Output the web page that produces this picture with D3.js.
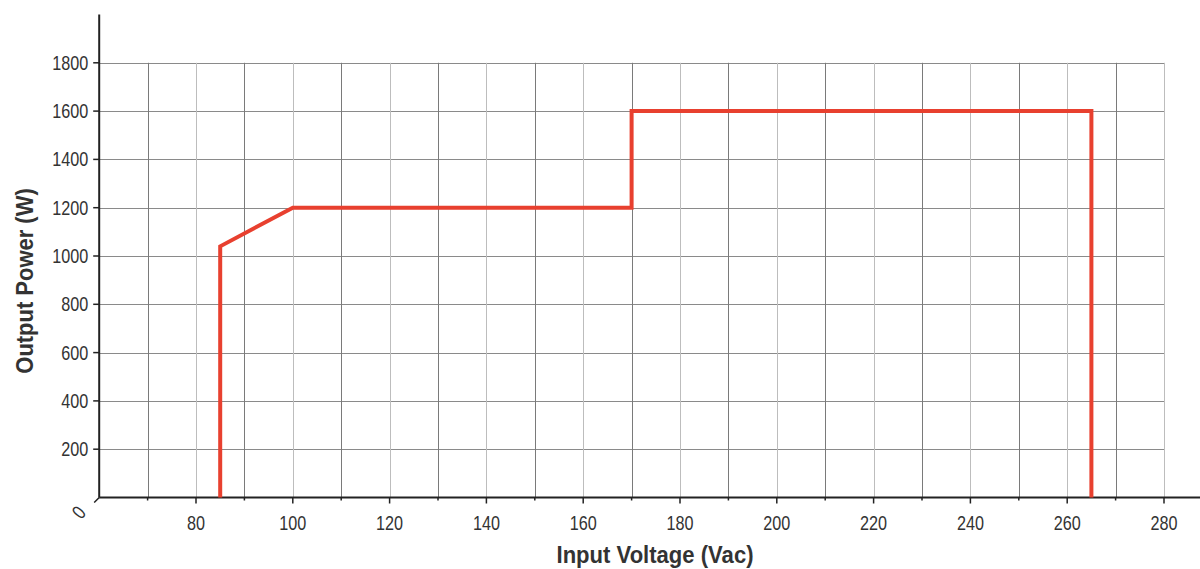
<!DOCTYPE html>
<html><head><meta charset="utf-8">
<script src="https://cdn.jsdelivr.net/npm/d3@7"></script>
<style>body{margin:0;background:#fff;}svg{display:block;font-family:"Liberation Sans",Arial,sans-serif;}</style>
</head><body><svg id="c" width="1200" height="569"></svg>
<script>
const voltage = [85, 85, 100, 170, 170, 265, 265];
const power   = [0, 1040, 1200, 1200, 1600, 1600, 0];
const xTickLabels = [80, 100, 120, 140, 160, 180, 200, 220, 240, 260, 280];
const xGrid = [70, 80, 90, 100, 110, 120, 130, 140, 150, 160, 170, 180, 190, 200, 210, 220, 230, 240, 250, 260, 270, 280];
const yTickLabels = [200, 400, 600, 800, 1000, 1200, 1400, 1600, 1800];

const svg = d3.select("#c");
const x = d3.scaleLinear().domain([60, 290]).range([99.2, 1212.4]);
const y = d3.scaleLinear().domain([0, 2000]).range([497.5, 14.5]);
const SX = 0.81;

const g = svg.append("g");
// horizontal grid
g.selectAll(".hg").data(yTickLabels).join("line")
  .attr("x1", x(60)).attr("x2", x(280))
  .attr("y1", d => Math.round(y(d)) + 0.5).attr("y2", d => Math.round(y(d)) + 0.5)
  .attr("stroke", "#8a8a8a").attr("stroke-width", 1);
// vertical grid
g.selectAll(".vg").data(xGrid).join("line")
  .attr("x1", d => Math.round(x(d)) + 0.5).attr("x2", d => Math.round(x(d)) + 0.5)
  .attr("y1", y(1800)).attr("y2", y(0))
  .attr("stroke", d => d % 20 === 0 ? "#bdbdbd" : "#7a7a7a").attr("stroke-width", 1);

// axes
const ax = svg.append("g").attr("stroke", "#222");
ax.append("line").attr("x1", x(60)).attr("x2", 1200).attr("y1", y(0)).attr("y2", y(0)).attr("stroke-width", 2);
ax.append("line").attr("x1", x(60)).attr("x2", x(60)).attr("y1", y(2000)).attr("y2", y(0)).attr("stroke-width", 2);
// origin diagonal tick
ax.append("line").attr("x1", x(60)).attr("y1", y(0)).attr("x2", x(60) - 5).attr("y2", y(0) + 5).attr("stroke-width", 1.5);
// x ticks
ax.selectAll(".xt").data(xGrid).join("line")
  .attr("x1", d => x(d)).attr("x2", d => x(d))
  .attr("y1", y(0)).attr("y2", d => y(0) + (d % 20 === 0 ? 6 : 3))
  .attr("stroke-width", 1.5);
// y ticks
ax.selectAll(".yt").data(yTickLabels).join("line")
  .attr("x1", x(60) - 6).attr("x2", x(60))
  .attr("y1", d => y(d)).attr("y2", d => y(d)).attr("stroke-width", 1.5);

// tick labels
svg.selectAll(".xl").data(xTickLabels).join("text")
  .attr("transform", d => `translate(${x(d)},${y(0) + 32}) scale(${SX},1)`)
  .attr("text-anchor", "middle").attr("font-size", 20).attr("fill", "#333")
  .text(d => d);
svg.selectAll(".yl").data(yTickLabels).join("text")
  .attr("transform", d => `translate(${x(60) - 11},${y(d) + 7}) scale(${SX},1)`)
  .attr("text-anchor", "end").attr("font-size", 20).attr("fill", "#333")
  .text(d => d);
svg.append("text").attr("transform", `translate(${x(60) - 20},${y(0) + 15}) rotate(-50) scale(${SX},1)`)
  .attr("text-anchor", "middle").attr("dominant-baseline", "central")
  .attr("font-size", 20).attr("fill", "#333").text("0");

// line
const line = d3.line().x(d => x(d[0])).y(d => y(d[1]));
svg.append("path").datum(voltage.map((v, i) => [v, power[i]]))
  .attr("d", line).attr("fill", "none").attr("stroke", "#e8402f")
  .attr("stroke-width", 4).attr("stroke-linejoin", "miter");

// titles
svg.append("text").attr("transform", "translate(655,563) scale(0.92,1)").attr("text-anchor", "middle")
  .attr("font-size", 24).attr("font-weight", "bold").attr("fill", "#333").text("Input Voltage (Vac)");
svg.append("text").attr("transform", "translate(33,281) rotate(-90) scale(0.915,1)").attr("text-anchor", "middle")
  .attr("font-size", 24).attr("font-weight", "bold").attr("fill", "#333").text("Output Power (W)");
</script></body></html>
